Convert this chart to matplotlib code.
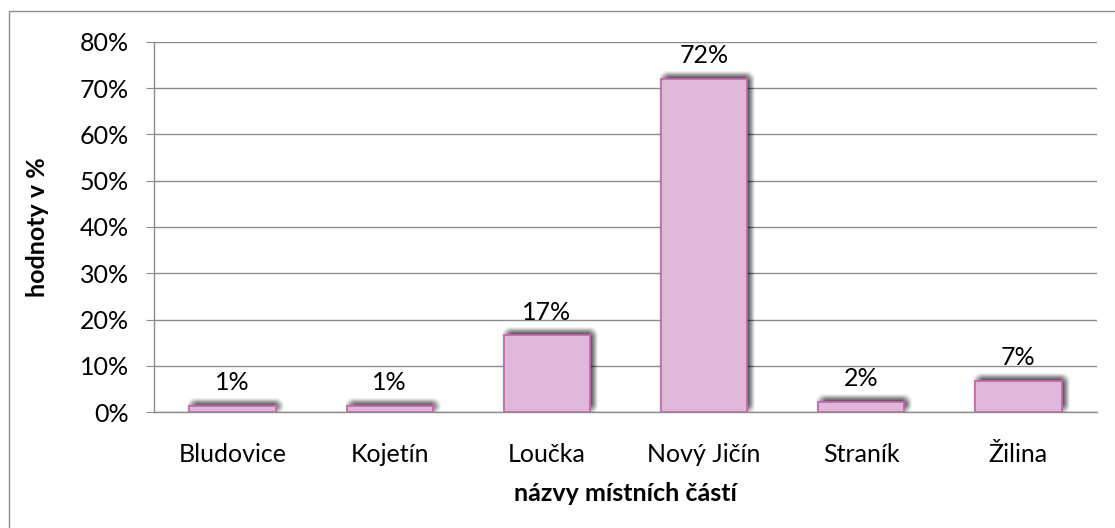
import matplotlib
matplotlib.use('Agg')
import matplotlib.pyplot as plt
import matplotlib.patheffects as pe
from matplotlib.patches import Rectangle
import matplotlib.ticker as mticker

categories = ["Bludovice", "Kojetín", "Loučka", "Nový Jičín", "Straník", "Žilina"]
values = [1.3, 1.3, 16.6, 72.0, 2.2, 6.8]
labels = ["1%", "1%", "17%", "72%", "2%", "7%"]
yticks = [0, 10, 20, 30, 40, 50, 60, 70, 80]

plt.rcParams['font.family'] = ['Lato', 'DejaVu Sans']
FS = 18

W, H = 1115, 528
fig = plt.figure(figsize=(W / 100, H / 100), dpi=100)
fig.patches.append(Rectangle((9 / W, 0 - 0.01), 1.1, (H - 11) / H + 0.01,
                             transform=fig.transFigure, fill=False,
                             edgecolor='#8c8c8c', linewidth=1.0))

ax = fig.add_axes([154 / W, (H - 412) / H, (1097 - 154) / W, (412 - 42) / H])

# soft shadow: faint copies spread around an offset up and to the right
px = 72 / 100
shadow = []
for dx in range(-3, 10):
    for dy in range(-3, 10):
        if (dx - 3) ** 2 + (dy - 3) ** 2 <= 30:
            shadow.append(pe.SimplePatchShadow(offset=(dx * px, dy * px),
                                               shadow_rgbFace='black', alpha=0.012))
shadow.append(pe.Normal())

x = range(len(categories))
bars = ax.bar(x, values, width=0.55, color='#dfb7d8', edgecolor='#c468ad',
              linewidth=1.3, zorder=3)
for b in bars:
    b.set_path_effects(shadow)

for xi, v, lab in zip(x, values, labels):
    ax.text(xi, v + 2.5, lab, ha='center', va='bottom', fontsize=FS, color='black')

ax.set_xlim(-0.5, len(categories) - 0.5)
ax.set_ylim(0, 80)
ax.set_yticks(yticks)
ax.yaxis.set_major_formatter(mticker.FuncFormatter(lambda v, p: f"{v:.0f}%"))
ax.set_xticks(list(x))
ax.set_xticklabels(categories)
ax.grid(axis='y', color='#8c8c8c', linewidth=1.0, zorder=0)
ax.set_axisbelow(True)

for s in ['top', 'right']:
    ax.spines[s].set_visible(False)
for s in ['left', 'bottom']:
    ax.spines[s].set_color('#8c8c8c')
    ax.spines[s].set_linewidth(1.0)

ax.tick_params(axis='y', length=6, color='#8c8c8c', labelsize=FS, pad=12)
ax.tick_params(axis='x', length=0, labelsize=FS, pad=22)

ax.set_ylabel('hodnoty v %', fontsize=FS, fontweight='bold', labelpad=22)
ax.set_xlabel('názvy místních částí', fontsize=FS, fontweight='bold', labelpad=12)

plt.savefig('out.png', dpi=100)
